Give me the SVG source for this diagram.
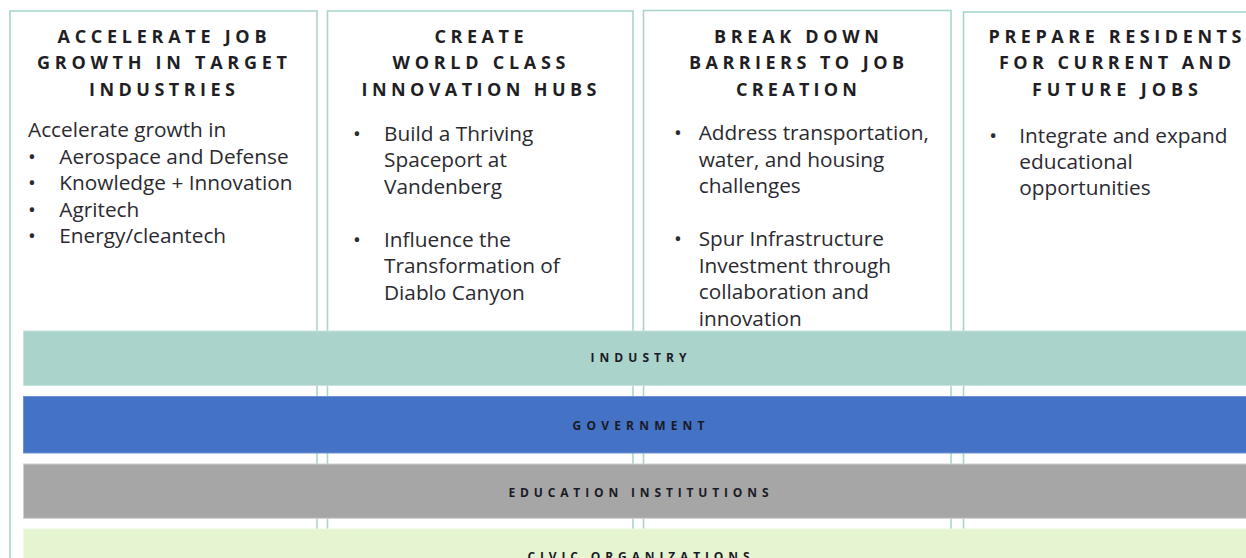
<svg xmlns="http://www.w3.org/2000/svg" width="1246" height="558" viewBox="0 0 1246 558">
  <style>
    .col { fill: #ffffff; stroke: #a9d5cc; stroke-width: 1.6; }
    .head { font-family: "Open Sans", "Liberation Sans", sans-serif; font-weight: 700; font-size: 18px; fill: #1e1e24; text-anchor: middle; }
    .body { font-family: "Open Sans", "Liberation Sans", sans-serif; font-weight: 400; font-size: 20.8px; fill: #2a2a30; }
    .band-label { font-family: "Open Sans", "Liberation Sans", sans-serif; font-weight: 700; font-size: 12px; fill: #1a1a26; text-anchor: middle; }
    .industry { fill: #aad3cb; stroke: #c6e3dd; stroke-width: 1; }
    .government { fill: #4472c4; stroke: #6d93d6; stroke-width: 1; }
    .education { fill: #a6a6a6; stroke: #cfcfcf; stroke-width: 1; }
    .civic { fill: #e5f5d1; stroke: #eef8e2; stroke-width: 1; }
  </style>

  <rect x="0" y="0" width="1246" height="558" fill="#ffffff"/>

  <!-- Goal columns -->
  <g id="col-job-growth">
    <rect class="col" x="10" y="11" width="307" height="560"/>
    <text class="head" x="162" y="42.5" textLength="209" lengthAdjust="spacing">ACCELERATE JOB</text>
    <text class="head" x="162" y="68.5" textLength="250" lengthAdjust="spacing">GROWTH IN TARGET</text>
    <text class="head" x="162" y="95.5" textLength="146" lengthAdjust="spacing">INDUSTRIES</text>
    <text class="body" x="28" y="137">Accelerate growth in</text>
    <text class="body" x="28" y="163.6">•</text>
    <text class="body" x="59.3" y="163.6">Aerospace and Defense</text>
    <text class="body" x="28" y="190.2">•</text>
    <text class="body" x="59.3" y="190.2">Knowledge + Innovation</text>
    <text class="body" x="28" y="216.8">•</text>
    <text class="body" x="59.3" y="216.8">Agritech</text>
    <text class="body" x="28" y="243.4">•</text>
    <text class="body" x="59.3" y="243.4">Energy/cleantech</text>
  </g>

  <g id="col-innovation-hubs">
    <rect class="col" x="327.5" y="11" width="305.5" height="560"/>
    <text class="head" x="479" y="42.5" textLength="89" lengthAdjust="spacing">CREATE</text>
    <text class="head" x="479" y="68.5" textLength="173" lengthAdjust="spacing">WORLD CLASS</text>
    <text class="head" x="479" y="95.5" textLength="235" lengthAdjust="spacing">INNOVATION HUBS</text>
    <text class="body" x="353" y="140.5">•</text>
    <text class="body" x="384" y="140.5">Build a Thriving</text>
    <text class="body" x="384" y="167.2">Spaceport at</text>
    <text class="body" x="384" y="193.9">Vandenberg</text>
    <text class="body" x="353" y="246.5">•</text>
    <text class="body" x="384" y="246.5">Influence the</text>
    <text class="body" x="384" y="273">Transformation of</text>
    <text class="body" x="384" y="299.5">Diablo Canyon</text>
  </g>

  <g id="col-barriers">
    <rect class="col" x="643.5" y="10.5" width="307.5" height="560"/>
    <text class="head" x="796.5" y="42.5" textLength="165" lengthAdjust="spacing">BREAK DOWN</text>
    <text class="head" x="796.5" y="68.5" textLength="215" lengthAdjust="spacing">BARRIERS TO JOB</text>
    <text class="head" x="796.5" y="95.5" textLength="121" lengthAdjust="spacing">CREATION</text>
    <text class="body" x="674" y="140.3">•</text>
    <text class="body" x="698.7" y="140.3">Address transportation,</text>
    <text class="body" x="698.7" y="166.8">water, and housing</text>
    <text class="body" x="698.7" y="193.3">challenges</text>
    <text class="body" x="674" y="246.3">•</text>
    <text class="body" x="698.7" y="246.3">Spur Infrastructure</text>
    <text class="body" x="698.7" y="272.8">Investment through</text>
    <text class="body" x="698.7" y="299.3">collaboration and</text>
    <text class="body" x="698.7" y="325.8">innovation</text>
  </g>

  <g id="col-residents">
    <rect class="col" x="963.5" y="12" width="307" height="560"/>
    <text class="head" x="1115" y="42.5" textLength="253" lengthAdjust="spacing">PREPARE RESIDENTS</text>
    <text class="head" x="1115" y="68.5" textLength="232" lengthAdjust="spacing">FOR CURRENT AND</text>
    <text class="head" x="1115" y="95.5" textLength="166" lengthAdjust="spacing">FUTURE JOBS</text>
    <text class="body" x="989.3" y="142.5">•</text>
    <text class="body" x="1019.3" y="142.5">Integrate and expand</text>
    <text class="body" x="1019.3" y="168.8">educational</text>
    <text class="body" x="1019.3" y="195.1">opportunities</text>
  </g>

  <!-- Partner sectors spanning all columns -->
  <g id="band-industry">
    <rect class="industry" x="23.5" y="331" width="1240" height="54.5"/>
    <text class="band-label" x="638.5" y="362" textLength="96" lengthAdjust="spacing">INDUSTRY</text>
  </g>
  <g id="band-government">
    <rect class="government" x="23.5" y="396.5" width="1240" height="56.5"/>
    <text class="band-label" x="638.5" y="429.5" textLength="132" lengthAdjust="spacing">GOVERNMENT</text>
  </g>
  <g id="band-education">
    <rect class="education" x="23.5" y="464" width="1240" height="54.3"/>
    <text class="band-label" x="638.5" y="496.5" textLength="260" lengthAdjust="spacing">EDUCATION INSTITUTIONS</text>
  </g>
  <g id="band-civic">
    <rect class="civic" x="23.5" y="529" width="1240" height="40"/>
    <text class="band-label" x="638.5" y="560.5" textLength="222" lengthAdjust="spacing">CIVIC ORGANIZATIONS</text>
  </g>
</svg>
